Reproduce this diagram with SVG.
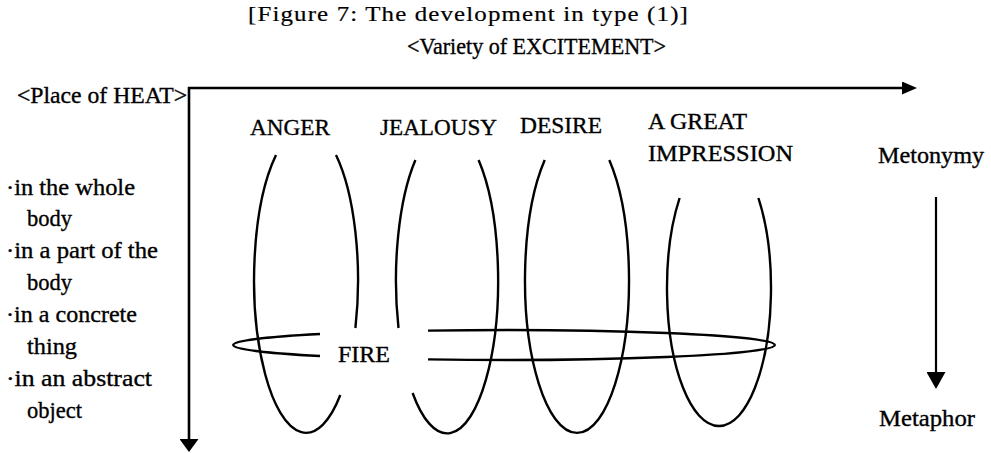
<svg xmlns="http://www.w3.org/2000/svg" width="991" height="453" viewBox="0 0 991 453">
<defs>
<style>
text{font-family:"Liberation Serif","Times New Roman",serif;font-size:24px;fill:#000;stroke:#000;stroke-width:0.35;}
.t{font-size:22px;letter-spacing:1px;stroke-width:0.2;}
.ell{fill:none;stroke:#000;stroke-width:2.4;}
.axis{fill:none;stroke:#000;stroke-width:2.6;}
.arr{fill:none;stroke:#000;stroke-width:2.2;}
</style>
<marker id="ahx" viewBox="0 0 15 13" refX="8" refY="6.5" markerWidth="15" markerHeight="13" markerUnits="userSpaceOnUse" orient="auto"><path d="M0,0 L15,6.5 L0,13 Z" fill="#000"/></marker>
<marker id="ahy" viewBox="0 0 13 19" refX="7" refY="9.5" markerWidth="13" markerHeight="19" markerUnits="userSpaceOnUse" orient="auto"><path d="M0,0 L13,9.5 L0,19 Z" fill="#000"/></marker>
<marker id="ahm" viewBox="0 0 17 19" refX="10" refY="9.5" markerWidth="17" markerHeight="19" markerUnits="userSpaceOnUse" orient="auto"><path d="M0,0 L17,9.5 L0,19 Z" fill="#000"/></marker>
</defs>
<rect width="991" height="453" fill="#fff"/>

<g id="title"><text class="t" x="248" y="21" textLength="441" lengthAdjust="spacingAndGlyphs">[Figure 7: The development in type (1)]</text></g>
<g id="variety-label"><text x="407" y="54" textLength="259" lengthAdjust="spacingAndGlyphs">&lt;Variety of EXCITEMENT&gt;</text></g>
<g id="place-label"><text x="17" y="103" textLength="170" lengthAdjust="spacingAndGlyphs">&lt;Place of HEAT&gt;</text></g>

<g id="places">
<text x="6" y="195" textLength="129" lengthAdjust="spacingAndGlyphs">·in the whole</text>
<text x="27" y="226" textLength="45" lengthAdjust="spacingAndGlyphs">body</text>
<text x="6" y="258" textLength="152" lengthAdjust="spacingAndGlyphs">·in a part of the</text>
<text x="27" y="290" textLength="45" lengthAdjust="spacingAndGlyphs">body</text>
<text x="6" y="322" textLength="131" lengthAdjust="spacingAndGlyphs">·in a concrete</text>
<text x="27" y="354" textLength="50" lengthAdjust="spacingAndGlyphs">thing</text>
<text x="6" y="386" textLength="146" lengthAdjust="spacingAndGlyphs">·in an abstract</text>
<text x="27" y="418" textLength="55" lengthAdjust="spacingAndGlyphs">object</text>
</g>

<g id="anger">
<text x="250" y="135" textLength="80" lengthAdjust="spacingAndGlyphs">ANGER</text>
<path class="ell" d="M336,155 A52,153 0 0 1 355.4,328 M340.3,395 A52,153 0 1 1 276,155"/>
</g>
<g id="jealousy">
<text x="380" y="135" textLength="117" lengthAdjust="spacingAndGlyphs">JEALOUSY</text>
<path class="ell" d="M415.4,160 A51,153 0 0 0 398.5,328 M412.6,393 A51,153 0 1 0 478.6,160"/>
</g>
<g id="desire">
<text x="520" y="133" textLength="82" lengthAdjust="spacingAndGlyphs">DESIRE</text>
<path class="ell" d="M544.7,160 A52,153 0 1 0 609.3,160"/>
</g>
<g id="great-impression">
<text x="648" y="129" textLength="99" lengthAdjust="spacingAndGlyphs">A GREAT</text>
<text x="648" y="161" textLength="145" lengthAdjust="spacingAndGlyphs">IMPRESSION</text>
<path class="ell" d="M679.6,198 A52,138 0 1 0 758.4,198"/>
</g>
<g id="fire">
<text x="338" y="362" textLength="52" lengthAdjust="spacingAndGlyphs">FIRE</text>
<path class="ell" d="M320,334 A271,15 0 0 0 320,356 M428,330.6 A271,15 0 1 1 428,359.4"/>
</g>

<g id="metonymy"><text x="878" y="163" textLength="106" lengthAdjust="spacingAndGlyphs">Metonymy</text></g>
<g id="metaphor"><text x="879" y="426" textLength="96" lengthAdjust="spacingAndGlyphs">Metaphor</text></g>

<g id="connectors">
<path class="axis" d="M188,88 L910,88" marker-end="url(#ahx)"/>
<path class="axis" d="M189,87 L189,446" marker-end="url(#ahy)"/>
<path class="arr" d="M936,197 L936,382" marker-end="url(#ahm)"/>
</g>
</svg>
